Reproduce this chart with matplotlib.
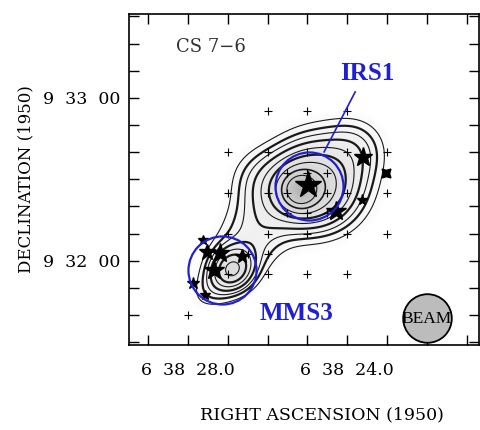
import numpy as np
import matplotlib
matplotlib.use("Agg")
from matplotlib import pyplot as plt
from matplotlib.colors import PowerNorm

# RA in seconds of 6h38m (B1950), Dec in arcsec offset from +9 32 00
ra_lim = (29.48, 20.69)
dec_lim = (-31, 91)

# emission model: (amplitude, ra, dec, sigma_major", sigma_minor", angle deg)
comp_amp = [0.40, 0.22, 0.28, 0.08, 0.06, 0.12, 0.22, 0.10]
comp_ra = [25.19, 25.07, 24.7, 23.75, 26.3, 26.35, 26.89, 27.03]
comp_dec = [26, 26, 29, 42, 31, 11, -3, -6]
comp_sa = [4, 9, 12, 8, 8, 16, 5, 10]
comp_sb = [4, 8, 12, 8, 8, 9, 5, 5]
comp_ang = [0, 0, 0, 0, 0, 55, 0, 40]

levels = [0.06, 0.09, 0.12, 0.16, 0.21, 0.27, 0.35, 0.46, 0.6]
widths = [0.8, 1.6, 0.8, 1.6, 0.8, 1.6, 0.8, 1.2, 0.8]

# mapping positions (+)
grid_ra = [26, 25, 24, 27, 26, 25, 24, 23, 25.5, 25, 24.5,
           27, 26, 25.5, 24.5, 24, 23, 25.5, 25, 24.5,
           27, 26, 25, 24, 23, 26.5, 26, 27, 26, 25, 24, 28]
grid_dec = [55, 55, 55, 40, 40, 40, 40, 40, 32.5, 32.5, 32.5,
            25, 25, 25, 25, 25, 25, 17.5, 17.5, 17.5,
            10, 10, 10, 10, 10, 2.5, 2.5, -5, -5, -5, -5, -20]

# stars: sources
star_ra = [24.98, 23.6, 24.28, 23.63, 27.52, 27.2, 26.64, 27.35, 27.87, 27.57, 27.62]
star_dec = [28, 38.3, 18.4, 22.5, 3.3, 2.9, 1.8, -3.3, -8.1, -12.5, 7.7]
star_size = [20, 14, 15, 8, 12, 14, 10, 15, 9, 7, 7]
xstar_ra = [23.03]
xstar_dec = [32.4]

circ_ra = [24.95, 27.15]
circ_dec = [27.5, -3.3]

fig = plt.figure(figsize=(4.81, 4.30), dpi=100)
ax = fig.add_axes([0.268, 0.198, 0.728, 0.770])

ra = np.linspace(ra_lim[1], ra_lim[0], 400)
dec = np.linspace(dec_lim[0], dec_lim[1], 400)
RA, DEC = np.meshgrid(ra, dec)
U = (25 - RA) * 14.8
Z = np.zeros_like(RA)
for a, r0, d0, sa, sb, ang in zip(comp_amp, comp_ra, comp_dec, comp_sa, comp_sb, comp_ang):
    du = U - (25 - r0) * 14.8
    dv = DEC - d0
    t = np.radians(ang)
    p = du * np.cos(t) + dv * np.sin(t)
    q = -du * np.sin(t) + dv * np.cos(t)
    Z += a * np.exp(-0.5 * ((p / sa) ** 2 + (q / sb) ** 2))

ax.imshow(Z, extent=[ra[0], ra[-1], dec[0], dec[-1]], origin="lower",
          cmap="Greys", norm=PowerNorm(0.6, vmin=0.035, vmax=4.0, clip=True),
          aspect="auto", interpolation="bilinear")
ax.contour(RA, DEC, Z, levels=levels, colors="#1a1a1a", linewidths=widths)

ax.plot(grid_ra, grid_dec, "+", color="k", ms=6, mew=0.8, ls="none")
for r, d, s in zip(star_ra, star_dec, star_size):
    ax.plot(r, d, marker="*", color="k", ms=s, ls="none")
ax.plot(xstar_ra, xstar_dec, marker=(4, 1, 45), color="k", ms=9, ls="none")

ax.plot(circ_ra, circ_dec, "o", ms=49, mfc="none", mec="#1f1fd6", mew=1.6, ls="none")
ax.plot([23.8, 24.58], [62.2, 40.1], color="#1f1fd6", lw=1.2)
ax.text(23.5, 69, "IRS1", color="#1f1fd6", fontsize=18, fontweight="bold",
        family="Liberation Serif", ha="center", va="center")
ax.text(25.27, -19.5, "MMS3", color="#1f1fd6", fontsize=18, fontweight="bold",
        family="Liberation Serif", ha="center", va="center")

ax.plot([22.0], [-21], "o", ms=35, mfc="#bcbcbc", mec="k", mew=1.3)
ax.text(22.0, -21.5, "BEAM", fontsize=12.5, family="Liberation Serif",
        ha="center", va="center")

ax.text(27.42, 78.8, "CS 7\u22126", fontsize=13, family="DejaVu Serif", color="#333333",
        ha="center", va="center")

ax.set_xlim(*ra_lim)
ax.set_ylim(*dec_lim)
xt = [29, 28, 27, 26, 25, 24, 23, 22, 21]
ax.set_xticks(xt)
ax.set_xticklabels(["6  38  %.1f" % v if v in (28, 24) else "" for v in xt],
                   family="DejaVu Serif", fontsize=12.5)
yt = list(range(-30, 91, 10))
ax.set_yticks(yt)
ax.set_yticklabels(["9  %d  00" % (32 + v // 60) if v in (0, 60) else "" for v in yt],
                   family="DejaVu Serif", fontsize=12.5)
ax.tick_params(direction="in", length=7, width=1, top=True, right=True)
ax.tick_params(axis="x", pad=12)
ax.tick_params(axis="y", pad=6)
for s in ax.spines.values():
    s.set_linewidth(1.2)

ax.set_xlabel("RIGHT ASCENSION (1950)", family="DejaVu Serif", fontsize=12.5)
ax.xaxis.set_label_coords(0.55, -0.185)
ax.set_ylabel("DECLINATION (1950)", family="DejaVu Serif", fontsize=12)
ax.yaxis.set_label_coords(-0.27, 0.5)

fig.savefig("out.png", dpi=100)
